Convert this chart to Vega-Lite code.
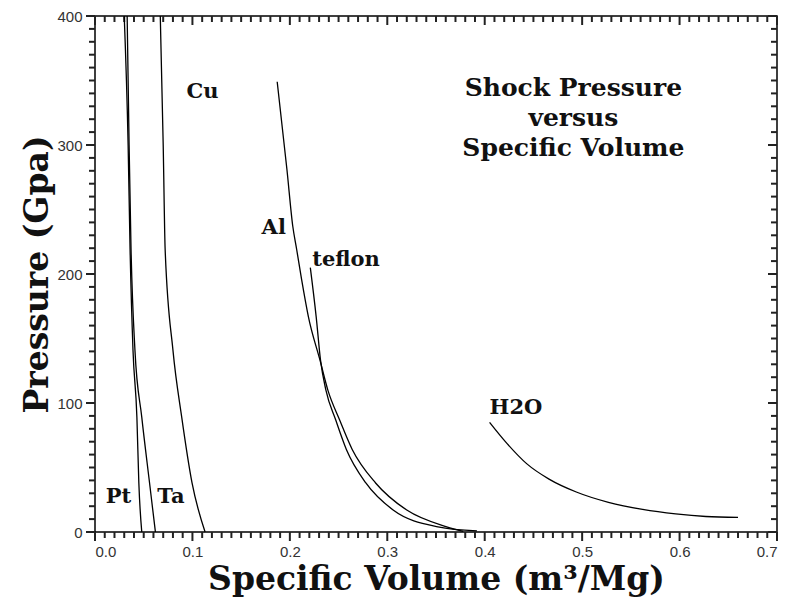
{
  "$schema": "https://vega.github.io/schema/vega-lite/v6.json",
  "width": 682,
  "height": 516,
  "autosize": "none",
  "padding": {"left": 95, "top": 16, "right": 10, "bottom": 65},
  "background": "white",
  "config": {
    "view": {"stroke": "black", "strokeWidth": 1.5},
    "axis": {"grid": false, "domain": false, "ticks": false, "labelFont": "Liberation Sans", "labelFontSize": 15, "labelColor": "#333"}
  },
  "datasets": {
    "curves": [
      {"m": "Pt", "v": 0.030, "p": 400}, {"m": "Pt", "v": 0.034, "p": 300}, {"m": "Pt", "v": 0.036, "p": 219}, {"m": "Pt", "v": 0.039, "p": 141}, {"m": "Pt", "v": 0.043, "p": 89}, {"m": "Pt", "v": 0.045, "p": 38}, {"m": "Pt", "v": 0.048, "p": 0},
      {"m": "Ta", "v": 0.033, "p": 400}, {"m": "Ta", "v": 0.035, "p": 300}, {"m": "Ta", "v": 0.037, "p": 219}, {"m": "Ta", "v": 0.041, "p": 141}, {"m": "Ta", "v": 0.048, "p": 89}, {"m": "Ta", "v": 0.056, "p": 38}, {"m": "Ta", "v": 0.062, "p": 0},
      {"m": "Cu", "v": 0.067, "p": 400}, {"m": "Cu", "v": 0.070, "p": 300}, {"m": "Cu", "v": 0.072, "p": 219}, {"m": "Cu", "v": 0.080, "p": 141}, {"m": "Cu", "v": 0.089, "p": 89}, {"m": "Cu", "v": 0.0996, "p": 38}, {"m": "Cu", "v": 0.113, "p": 0},
      {"m": "Al", "v": 0.187, "p": 349}, {"m": "Al", "v": 0.197, "p": 281}, {"m": "Al", "v": 0.203, "p": 237}, {"m": "Al", "v": 0.207, "p": 219}, {"m": "Al", "v": 0.212, "p": 196}, {"m": "Al", "v": 0.219, "p": 167}, {"m": "Al", "v": 0.231, "p": 133}, {"m": "Al", "v": 0.239, "p": 110}, {"m": "Al", "v": 0.251, "p": 87}, {"m": "Al", "v": 0.264, "p": 64}, {"m": "Al", "v": 0.288, "p": 38}, {"m": "Al", "v": 0.320, "p": 17}, {"m": "Al", "v": 0.361, "p": 4}, {"m": "Al", "v": 0.378, "p": 0.5},
      {"m": "teflon", "v": 0.221, "p": 205}, {"m": "teflon", "v": 0.227, "p": 167}, {"m": "teflon", "v": 0.2315, "p": 133}, {"m": "teflon", "v": 0.237, "p": 110}, {"m": "teflon", "v": 0.247, "p": 87}, {"m": "teflon", "v": 0.258, "p": 64}, {"m": "teflon", "v": 0.278, "p": 38}, {"m": "teflon", "v": 0.306, "p": 17}, {"m": "teflon", "v": 0.352, "p": 4}, {"m": "teflon", "v": 0.392, "p": 0.8},
      {"m": "H2O", "v": 0.405, "p": 85}, {"m": "H2O", "v": 0.423, "p": 68.5}, {"m": "H2O", "v": 0.443, "p": 53}, {"m": "H2O", "v": 0.466, "p": 41}, {"m": "H2O", "v": 0.494, "p": 31}, {"m": "H2O", "v": 0.527, "p": 23}, {"m": "H2O", "v": 0.562, "p": 17.5}, {"m": "H2O", "v": 0.596, "p": 14}, {"m": "H2O", "v": 0.627, "p": 12}, {"m": "H2O", "v": 0.660, "p": 11.3}
    ],
    "annot": [
      {"t": "Cu", "v": 0.094, "p": 341},
      {"t": "Al", "v": 0.171, "p": 236},
      {"t": "teflon", "v": 0.223, "p": 211},
      {"t": "H2O", "v": 0.405, "p": 96},
      {"t": "Pt", "v": 0.011, "p": 27},
      {"t": "Ta", "v": 0.064, "p": 27}
    ],
    "heading": [
      {"t": "Shock Pressure", "v": 0.491, "p": 344},
      {"t": "versus", "v": 0.491, "p": 321},
      {"t": "Specific Volume", "v": 0.491, "p": 298}
    ],
    "xmaj": [{"v": 0}, {"v": 0.1}, {"v": 0.2}, {"v": 0.3}, {"v": 0.4}, {"v": 0.5}, {"v": 0.6}, {"v": 0.7}],
    "xmin": [{"v":0.01},{"v":0.02},{"v":0.03},{"v":0.04},{"v":0.05},{"v":0.06},{"v":0.07},{"v":0.08},{"v":0.09},{"v":0.11},{"v":0.12},{"v":0.13},{"v":0.14},{"v":0.15},{"v":0.16},{"v":0.17},{"v":0.18},{"v":0.19},{"v":0.21},{"v":0.22},{"v":0.23},{"v":0.24},{"v":0.25},{"v":0.26},{"v":0.27},{"v":0.28},{"v":0.29},{"v":0.31},{"v":0.32},{"v":0.33},{"v":0.34},{"v":0.35},{"v":0.36},{"v":0.37},{"v":0.38},{"v":0.39},{"v":0.41},{"v":0.42},{"v":0.43},{"v":0.44},{"v":0.45},{"v":0.46},{"v":0.47},{"v":0.48},{"v":0.49},{"v":0.51},{"v":0.52},{"v":0.53},{"v":0.54},{"v":0.55},{"v":0.56},{"v":0.57},{"v":0.58},{"v":0.59},{"v":0.61},{"v":0.62},{"v":0.63},{"v":0.64},{"v":0.65},{"v":0.66},{"v":0.67},{"v":0.68},{"v":0.69}],
    "ymaj": [{"p": 0}, {"p": 100}, {"p": 200}, {"p": 300}, {"p": 400}],
    "ymin": [{"p":10},{"p":20},{"p":30},{"p":40},{"p":50},{"p":60},{"p":70},{"p":80},{"p":90},{"p":110},{"p":120},{"p":130},{"p":140},{"p":150},{"p":160},{"p":170},{"p":180},{"p":190},{"p":210},{"p":220},{"p":230},{"p":240},{"p":250},{"p":260},{"p":270},{"p":280},{"p":290},{"p":310},{"p":320},{"p":330},{"p":340},{"p":350},{"p":360},{"p":370},{"p":380},{"p":390}]
  },
  "layer": [
    {
      "data": {"name": "xmin"},
      "mark": {"type": "tick", "orient": "vertical", "size": 6, "thickness": 2, "color": "#222", "opacity": 1, "yOffset": 3},
      "encoding": {"x": {"field": "v", "type": "quantitative"}, "y": {"datum": 0, "type": "quantitative"}}
    },
    {
      "data": {"name": "xmaj"},
      "mark": {"type": "tick", "orient": "vertical", "size": 9, "thickness": 2, "color": "#222", "opacity": 1, "yOffset": 4.5},
      "encoding": {"x": {"field": "v", "type": "quantitative"}, "y": {"datum": 0, "type": "quantitative"}}
    },
    {
      "data": {"name": "xmin"},
      "mark": {"type": "tick", "orient": "vertical", "size": 6, "thickness": 2, "color": "#222", "opacity": 1, "yOffset": 3},
      "encoding": {"x": {"field": "v", "type": "quantitative"}, "y": {"datum": 400, "type": "quantitative"}}
    },
    {
      "data": {"name": "xmaj"},
      "mark": {"type": "tick", "orient": "vertical", "size": 9, "thickness": 2, "color": "#222", "opacity": 1, "yOffset": 4.5},
      "encoding": {"x": {"field": "v", "type": "quantitative"}, "y": {"datum": 400, "type": "quantitative"}}
    },
    {
      "data": {"name": "ymin"},
      "mark": {"type": "tick", "orient": "horizontal", "size": 6, "thickness": 2, "color": "#222", "opacity": 1, "xOffset": -3},
      "encoding": {"y": {"field": "p", "type": "quantitative"}, "x": {"datum": 0, "type": "quantitative"}}
    },
    {
      "data": {"name": "ymaj"},
      "mark": {"type": "tick", "orient": "horizontal", "size": 9, "thickness": 2, "color": "#222", "opacity": 1, "xOffset": -4.5},
      "encoding": {"y": {"field": "p", "type": "quantitative"}, "x": {"datum": 0, "type": "quantitative"}}
    },
    {
      "data": {"name": "ymin"},
      "mark": {"type": "tick", "orient": "horizontal", "size": 6, "thickness": 2, "color": "#222", "opacity": 1, "xOffset": -3},
      "encoding": {"y": {"field": "p", "type": "quantitative"}, "x": {"datum": 0.7, "type": "quantitative"}}
    },
    {
      "data": {"name": "ymaj"},
      "mark": {"type": "tick", "orient": "horizontal", "size": 9, "thickness": 2, "color": "#222", "opacity": 1, "xOffset": -4.5},
      "encoding": {"y": {"field": "p", "type": "quantitative"}, "x": {"datum": 0.7, "type": "quantitative"}}
    },
    {
      "data": {"name": "curves"},
      "mark": {"type": "line", "color": "black", "strokeWidth": 1.3, "interpolate": "monotone"},
      "encoding": {
        "x": {"field": "v", "type": "quantitative", "scale": {"domain": [0, 0.7], "nice": false, "zero": false},
          "axis": {"orient": "bottom", "values": [0, 0.1, 0.2, 0.3, 0.4, 0.5, 0.6, 0.7], "format": ".1f", "labelPadding": 12,
            "title": "Specific Volume (m³/Mg)", "titleFont": "DejaVu Serif", "titleFontSize": 33, "titleFontWeight": "bold", "titleColor": "#111", "titlePadding": 4}},
        "y": {"field": "p", "type": "quantitative", "scale": {"domain": [0, 400], "nice": false},
          "axis": {"orient": "left", "values": [0, 100, 200, 300, 400], "labelPadding": 13,
            "title": "Pressure (Gpa)", "titleFont": "DejaVu Serif", "titleFontSize": 33, "titleFontWeight": "bold", "titleColor": "#111", "titlePadding": 2}},
        "detail": {"field": "m", "type": "nominal"}
      }
    },
    {
      "data": {"name": "annot"},
      "mark": {"type": "text", "align": "left", "baseline": "middle", "font": "DejaVu Serif", "fontSize": 21, "fontWeight": "bold", "color": "#111"},
      "encoding": {
        "x": {"field": "v", "type": "quantitative"},
        "y": {"field": "p", "type": "quantitative"},
        "text": {"field": "t", "type": "nominal"}
      }
    },
    {
      "data": {"name": "heading"},
      "mark": {"type": "text", "align": "center", "baseline": "middle", "font": "DejaVu Serif", "fontSize": 25, "fontWeight": "bold", "color": "#111"},
      "encoding": {
        "x": {"field": "v", "type": "quantitative"},
        "y": {"field": "p", "type": "quantitative"},
        "text": {"field": "t", "type": "nominal"}
      }
    }
  ]
}
